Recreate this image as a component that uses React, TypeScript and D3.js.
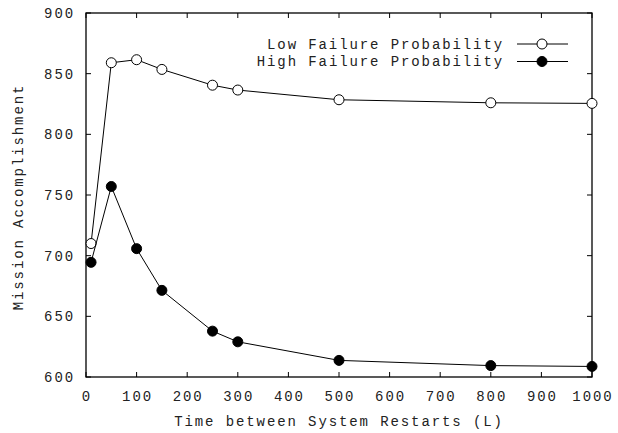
import React from "react";
import * as d3 from "d3";

const xValues = [10, 50, 100, 150, 250, 300, 500, 800, 1000];
const lowFailure = [710, 859, 861.5, 853.5, 840.5, 836.5, 828.5, 826, 825.5];
const highFailure = [694.5, 757, 705.8, 671.4, 637.8, 629, 613.7, 609.4, 608.7];
const xTicks = [0, 100, 200, 300, 400, 500, 600, 700, 800, 900, 1000];
const yTicks = [600, 650, 700, 750, 800, 850, 900];
const seriesNames = ["Low Failure Probability", "High Failure Probability"];

const W = 618, H = 433;
const m = { left: 86, right: 592, top: 13, bottom: 377 };
const font = "'Liberation Mono', 'DejaVu Sans Mono', monospace";
const fs = 14;
const ls = 1.9;

export default function App() {
  const x = d3.scaleLinear().domain([0, 1000]).range([m.left, m.right]);
  const y = d3.scaleLinear().domain([600, 900]).range([m.bottom, m.top]);
  const line = d3.line<number>().x((_, i) => x(xValues[i])).y((d) => y(d));
  const series = [
    { name: seriesNames[0], data: lowFailure, fill: "white" },
    { name: seriesNames[1], data: highFailure, fill: "black" },
  ];
  const tl = 5;
  return (
    <svg width={W} height={H} style={{ position: "absolute", left: 0, top: 0, background: "white" }}>
      <rect x={0} y={0} width={W} height={H} fill="white" />
      {xTicks.map((t) => (
        <g key={"x" + t}>
          <line x1={x(t)} x2={x(t)} y1={m.bottom} y2={m.bottom - tl} stroke="black" />
          <line x1={x(t)} x2={x(t)} y1={m.top} y2={m.top + tl} stroke="black" />
          <text x={x(t) + ls / 2} y={401} textAnchor="middle" fontFamily={font} fontSize={fs} letterSpacing={ls} fill="#222">{t}</text>
        </g>
      ))}
      {yTicks.map((t) => (
        <g key={"y" + t}>
          <line x1={m.left} x2={m.left + tl} y1={y(t)} y2={y(t)} stroke="black" />
          <line x1={m.right} x2={m.right - tl} y1={y(t)} y2={y(t)} stroke="black" />
          <text x={75} y={y(t) + 5} textAnchor="end" fontFamily={font} fontSize={fs} letterSpacing={ls} fill="#222">{t}</text>
        </g>
      ))}
      <rect x={m.left} y={m.top} width={m.right - m.left} height={m.bottom - m.top} fill="none" stroke="black" strokeWidth={1.3} />
      {series.map((s) => (
        <g key={s.name}>
          <path d={line(s.data) || ""} fill="none" stroke="black" strokeWidth={1} />
          {s.data.map((v, i) => (
            <circle key={i} cx={x(xValues[i])} cy={y(v)} r={5} fill={s.fill} stroke="black" strokeWidth={1} />
          ))}
        </g>
      ))}
      {series.map((s, i) => {
        const ly = 44 + i * 17.5;
        return (
          <g key={"leg" + i}>
            <text x={504} y={ly + 4.5} textAnchor="end" fontFamily={font} fontSize={fs} letterSpacing={ls} fill="#222">{s.name}</text>
            <line x1={517} x2={568} y1={ly} y2={ly} stroke="black" />
            <circle cx={542} cy={ly} r={5} fill={s.fill} stroke="black" />
          </g>
        );
      })}
      <text x={339} y={426} textAnchor="middle" fontFamily={font} fontSize={fs} letterSpacing={ls} fill="#222">Time between System Restarts (L)</text>
      <text transform={`translate(23,${(m.top + m.bottom) / 2 + 2}) rotate(-90)`} textAnchor="middle" fontFamily={font} fontSize={fs} letterSpacing={ls} fill="#222">Mission Accomplishment</text>
    </svg>
  );
}
